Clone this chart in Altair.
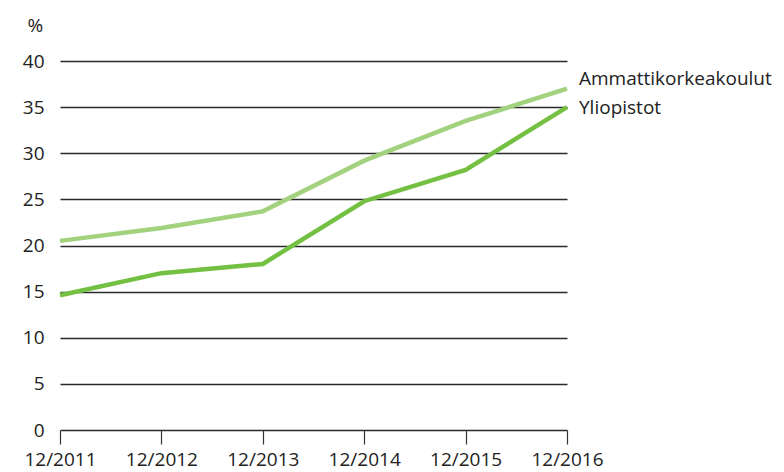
import altair as alt
import pandas as pd

years = ["12/2011", "12/2012", "12/2013", "12/2014", "12/2015", "12/2016"]
amk = [20.5, 21.9, 23.7, 29.2, 33.5, 37.0]
yliopistot = [14.6, 17.0, 18.0, 24.8, 28.2, 35.0]
series_names = ["Ammattikorkeakoulut", "Yliopistot"]
colors = ["#a3d27f", "#74c042"]
y_ticks = [0, 5, 10, 15, 20, 25, 30, 35, 40]

rows = []
for s, vals in zip(series_names, [amk, yliopistot]):
    for yr, v in zip(years, vals):
        rows.append({"year": yr, "value": v, "series": s})
df = pd.DataFrame(rows)

font = "Open Sans"
fs = 19

x = alt.X("year:O", sort=years,
          scale=alt.Scale(type="point", padding=0),
          axis=alt.Axis(title=None, labelAngle=0, labelFontSize=fs, labelFont=font,
                        labelColor="#222", tickSize=14, tickColor="#333", tickWidth=1.2,
                        domain=False, labelPadding=6, grid=False))
y = alt.Y("value:Q", scale=alt.Scale(domain=[0, 40], nice=False),
          axis=alt.Axis(values=y_ticks, title="%", titleAngle=0, titleFontSize=fs,
                        titleFont=font, titleFontWeight="normal", titleColor="#222",
                        titleX=-33, titleY=-36, titleAlign="left", titleBaseline="middle",
                        labelFontSize=fs, labelFont=font, labelColor="#222",
                        labelPadding=16, ticks=False, domain=False,
                        grid=True, gridColor="#2a2a2a", gridWidth=1.3))

lines = alt.Chart(df).mark_line(strokeWidth=4.5).encode(
    x=x, y=y,
    color=alt.Color("series:N", scale=alt.Scale(domain=series_names, range=colors), legend=None),
)

label_df = pd.DataFrame({
    "year": [years[-1], years[-1]],
    "value": [38.1, 34.9],
    "series": series_names,
})
labels = alt.Chart(label_df).mark_text(align="left", dx=12, baseline="middle",
                                       fontSize=fs, font=font, color="#222").encode(
    x=alt.X("year:O", sort=years, scale=alt.Scale(type="point", padding=0)),
    y=alt.Y("value:Q"),
    text="series:N",
)

chart = alt.layer(lines, labels).properties(
    width=507, height=369,
    autosize=alt.AutoSizeParams(type="none"),
    padding={"left": 52, "top": 53, "right": 209, "bottom": 42},
).configure_view(stroke=None)

chart.save("out.html", embed_options={"renderer": "svg", "actions": False})
